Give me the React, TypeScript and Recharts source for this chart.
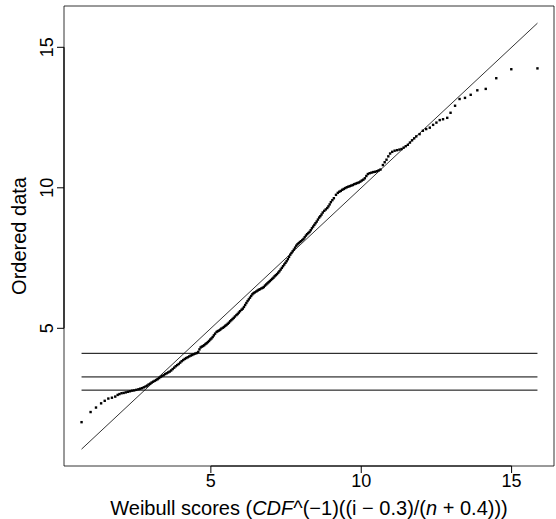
import React from 'react';
import {
  ScatterChart,
  Scatter,
  XAxis,
  YAxis,
  ReferenceLine,
  ReferenceArea,
  Label,
} from 'recharts';

// Weibull plotting-position scores (x) and the sorted sample (y)
const weibullScores = [
  0.70, 1.00, 1.18, 1.35, 1.47, 1.59, 1.71, 1.82,
  1.90, 1.96, 2.03, 2.10, 2.17, 2.24, 2.31, 2.38, 2.45, 2.52, 2.59, 2.65, 2.71, 2.77, 2.83, 2.88, 2.93, 2.98,
  3.03, 3.08, 3.13, 3.18, 3.23, 3.28, 3.33, 3.38, 3.43, 3.48, 3.53, 3.58, 3.63, 3.68, 3.73, 3.78, 3.83, 3.88,
  3.93, 3.98, 4.03, 4.08, 4.13, 4.18, 4.23, 4.28, 4.33, 4.38, 4.43, 4.48, 4.53, 4.58, 4.62, 4.66,
  4.70, 4.74, 4.78, 4.82, 4.86, 4.90, 4.94, 4.98, 5.02, 5.06, 5.10, 5.14, 5.19, 5.23, 5.27, 5.31, 5.35, 5.40,
  5.44, 5.48, 5.52, 5.56, 5.60, 5.64, 5.68, 5.72, 5.76, 5.80, 5.85, 5.89, 5.93, 5.97, 6.02, 6.06, 6.10, 6.14,
  6.18, 6.22, 6.26, 6.30, 6.34, 6.38, 6.42, 6.46, 6.51, 6.55, 6.59, 6.63, 6.68, 6.72, 6.76, 6.80, 6.84, 6.88,
  6.92, 6.96, 7.00, 7.04, 7.08, 7.12, 7.16, 7.20, 7.24, 7.28, 7.32, 7.36, 7.40, 7.44, 7.48, 7.52, 7.56, 7.60,
  7.64, 7.68, 7.72, 7.76, 7.80, 7.84, 7.88, 7.92, 7.96, 8.00, 8.04, 8.08, 8.12, 8.16, 8.20, 8.24, 8.28, 8.32,
  8.36, 8.40, 8.44, 8.48, 8.52, 8.56, 8.60, 8.64, 8.68, 8.72, 8.77, 8.82, 8.87, 8.91, 8.95, 8.99, 9.04, 9.09,
  9.16, 9.22, 9.27, 9.32, 9.37, 9.42, 9.47, 9.52, 9.57, 9.62, 9.67, 9.72, 9.77, 9.82, 9.87, 9.92, 9.97, 10.02,
  10.07, 10.12, 10.17, 10.22, 10.28, 10.34, 10.40, 10.46, 10.52, 10.58, 10.64,
  10.72, 10.78, 10.84, 10.90, 10.96, 11.03, 11.11, 11.19, 11.27, 11.34, 11.41, 11.48, 11.55, 11.62, 11.69,
  11.76, 11.83, 11.94,
  12.05, 12.16, 12.28, 12.39, 12.50, 12.61, 12.72, 12.86, 12.97, 13.12, 13.27, 13.45, 13.64, 13.86, 14.14,
  14.49, 14.99, 15.86,
];

const orderedData = [
  1.66, 2.02, 2.18, 2.33, 2.42, 2.50, 2.53, 2.57,
  2.63, 2.66, 2.69, 2.70, 2.72, 2.74, 2.76, 2.78, 2.79, 2.81, 2.83, 2.85, 2.87, 2.90, 2.93, 2.96, 3.00, 3.03,
  3.07, 3.10, 3.13, 3.16, 3.19, 3.23, 3.27, 3.30, 3.33, 3.37, 3.40, 3.43, 3.46, 3.50, 3.55, 3.60, 3.65, 3.69,
  3.73, 3.78, 3.83, 3.87, 3.91, 3.94, 3.97, 4.00, 4.03, 4.05, 4.08, 4.10, 4.12, 4.16, 4.25, 4.32,
  4.35, 4.37, 4.40, 4.44, 4.47, 4.51, 4.55, 4.60, 4.64, 4.69, 4.75, 4.81, 4.87, 4.90, 4.92, 4.95, 4.99, 5.02,
  5.05, 5.09, 5.12, 5.16, 5.20, 5.25, 5.29, 5.33, 5.37, 5.42, 5.47, 5.51, 5.56, 5.61, 5.66, 5.70, 5.76, 5.83,
  5.90, 5.97, 6.03, 6.09, 6.15, 6.21, 6.25, 6.28, 6.31, 6.34, 6.37, 6.39, 6.42, 6.44, 6.47, 6.52, 6.56, 6.60,
  6.64, 6.68, 6.72, 6.76, 6.80, 6.85, 6.89, 6.93, 6.98, 7.03, 7.09, 7.15, 7.21, 7.27, 7.33, 7.39, 7.46, 7.54,
  7.62, 7.68, 7.74, 7.80, 7.87, 7.94, 7.99, 8.03, 8.07, 8.10, 8.14, 8.18, 8.24, 8.30, 8.35, 8.39, 8.43, 8.49,
  8.56, 8.62, 8.68, 8.74, 8.80, 8.87, 8.94, 8.99, 9.05, 9.12, 9.18, 9.23, 9.28, 9.34, 9.41, 9.49, 9.56, 9.63,
  9.75, 9.82, 9.86, 9.89, 9.93, 9.96, 9.99, 10.02, 10.04, 10.06, 10.08, 10.10, 10.13, 10.15, 10.17, 10.19, 10.22, 10.26,
  10.29, 10.34, 10.42, 10.49, 10.52, 10.54, 10.56, 10.57, 10.59, 10.62, 10.65,
  10.81, 10.91, 11.00, 11.12, 11.22, 11.28, 11.32, 11.34, 11.36, 11.38, 11.43, 11.48, 11.53, 11.61, 11.69,
  11.76, 11.83, 11.91,
  12.03, 12.09, 12.14, 12.24, 12.32, 12.41, 12.44, 12.49, 12.67, 12.92, 13.16, 13.20, 13.31, 13.47, 13.52,
  13.90, 14.22, 14.25,
];

const scoreTicks = [5, 10, 15];
const orderedTicks = [5, 10, 15];
// horizontal reference levels
const thresholdLevels = [4.11, 3.27, 2.8];

const xDomain: [number, number] = [0.116, 16.41];
const yDomain: [number, number] = [0.1, 16.47];

const FONT = '"Liberation Sans", Arial, Helvetica, sans-serif';

const points = weibullScores.map((x, i) => ({ x, y: orderedData[i] }));
const lo = Math.min(...weibullScores);
const hi = Math.max(...weibullScores);

const Dot = (props: any) => {
  const { cx, cy } = props;
  if (cx == null || cy == null) return null;
  return <rect x={cx - 1.2} y={cy - 1.2} width={2.4} height={2.4} fill="#000" />;
};

const XTick = (props: any) => {
  const { x, y, payload } = props;
  return (
    <text x={x} y={y + 12} textAnchor="middle" fontSize={18} fontFamily={FONT} fill="#000">
      {payload.value}
    </text>
  );
};

const YTick = (props: any) => {
  const { x, y, payload } = props;
  const bx = x - 2;
  return (
    <text
      x={bx}
      y={y}
      transform={`rotate(-90 ${bx} ${y})`}
      textAnchor="middle"
      fontSize={18}
      fontFamily={FONT}
      fill="#000"
    >
      {payload.value}
    </text>
  );
};

const XTitle = (props: any) => {
  const { viewBox } = props;
  const cx = viewBox.x + viewBox.width / 2;
  return (
    <text x={cx} y={515} textAnchor="middle" fontSize={20} fontFamily={FONT} fill="#000">
      Weibull scores (<tspan fontStyle="italic">CDF</tspan>^(−1)((i − 0.3)/(
      <tspan fontStyle="italic">n</tspan> + 0.4)))
    </text>
  );
};

const YTitle = (props: any) => {
  const { viewBox } = props;
  const cy = viewBox.y + viewBox.height / 2;
  const bx = 26;
  return (
    <text
      x={bx}
      y={cy}
      transform={`rotate(-90 ${bx} ${cy})`}
      textAnchor="middle"
      fontSize={20}
      fontFamily={FONT}
      fill="#000"
    >
      Ordered data
    </text>
  );
};

export default function App() {
  return (
    <div style={{ width: 556, height: 519, background: '#fff' }}>
      <style>{'body{margin:0}'}</style>
      <ScatterChart width={556} height={519} margin={{ top: 6, right: 2, bottom: 0, left: 0 }}>
        <XAxis
          type="number"
          dataKey="x"
          domain={xDomain}
          allowDataOverflow
          ticks={scoreTicks}
          height={53}
          tickSize={7}
          axisLine={false}
          stroke="#000"
          tick={<XTick />}
        >
          <Label content={<XTitle />} />
        </XAxis>
        <YAxis
          type="number"
          dataKey="y"
          domain={yDomain}
          allowDataOverflow
          ticks={orderedTicks}
          width={64}
          tickSize={7}
          axisLine={false}
          stroke="#000"
          tick={<YTick />}
        >
          <Label content={<YTitle />} />
        </YAxis>

        {/* plot frame */}
        <ReferenceArea
          x1={xDomain[0]}
          x2={xDomain[1]}
          y1={yDomain[0]}
          y2={yDomain[1]}
          fill="none"
          fillOpacity={0}
          stroke="#000"
          strokeWidth={0.8}
        />
        {/* axis lines run from first to last tick */}
        <ReferenceLine
          segment={[
            { x: scoreTicks[0], y: yDomain[0] },
            { x: scoreTicks[scoreTicks.length - 1], y: yDomain[0] },
          ]}
          stroke="#000"
          strokeWidth={1.2}
        />
        <ReferenceLine
          segment={[
            { x: xDomain[0], y: orderedTicks[0] },
            { x: xDomain[0], y: orderedTicks[orderedTicks.length - 1] },
          ]}
          stroke="#000"
          strokeWidth={1.2}
        />

        {thresholdLevels.map((lvl) => (
          <ReferenceLine
            key={lvl}
            segment={[
              { x: lo, y: lvl },
              { x: hi, y: lvl },
            ]}
            stroke="#000"
            strokeWidth={1}
          />
        ))}
        {/* y = x reference */}
        <ReferenceLine
          segment={[
            { x: lo, y: lo },
            { x: hi, y: hi },
          ]}
          stroke="#000"
          strokeWidth={0.8}
        />

        <Scatter data={points} shape={<Dot />} isAnimationActive={false} />
      </ScatterChart>
    </div>
  );
}
